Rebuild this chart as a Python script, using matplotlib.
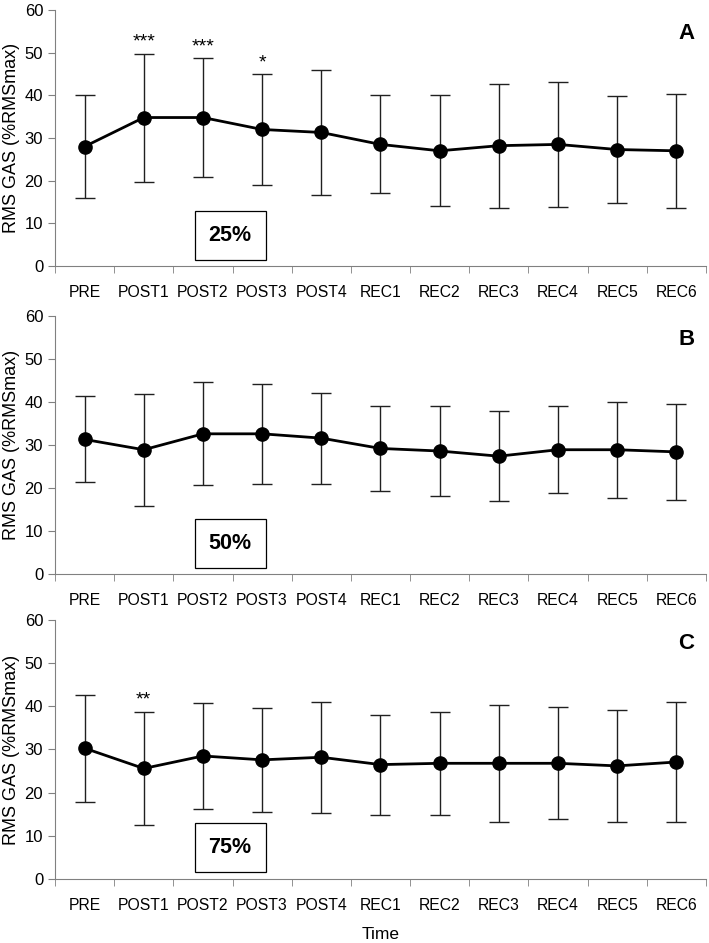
import numpy as np
import matplotlib.pyplot as plt

times = ['PRE', 'POST1', 'POST2', 'POST3', 'POST4', 'REC1', 'REC2', 'REC3', 'REC4', 'REC5', 'REC6']

# mean and SD for each intensity
mean_25 = [28.0, 34.8, 34.8, 32.0, 31.3, 28.5, 27.0, 28.2, 28.5, 27.3, 27.0]
sd_25 = [12.0, 15.0, 14.0, 13.1, 14.6, 11.5, 13.0, 14.5, 14.6, 12.6, 13.3]
mean_50 = [31.3, 28.9, 32.6, 32.6, 31.6, 29.2, 28.6, 27.4, 28.9, 28.9, 28.4]
sd_50 = [10.0, 13.0, 12.0, 11.6, 10.6, 9.9, 10.4, 10.4, 10.1, 11.2, 11.2]
mean_75 = [30.3, 25.6, 28.5, 27.6, 28.2, 26.5, 26.8, 26.8, 26.8, 26.2, 27.1]
sd_75 = [12.4, 13.2, 12.3, 12.0, 12.9, 11.6, 11.9, 13.6, 13.0, 13.0, 14.0]

panels = [('A', '25%', mean_25, sd_25, {1: '***', 2: '***', 3: '*'}),
          ('B', '50%', mean_50, sd_50, {}),
          ('C', '75%', mean_75, sd_75, {1: '**'})]

plt.rcParams['font.family'] = ['Liberation Sans', 'DejaVu Sans']
fig = plt.figure(figsize=(7.09, 9.43), dpi=100)
rects = [[0.0776, 0.7179, 0.918, 0.2715],
         [0.0776, 0.3913, 0.918, 0.2736],
         [0.0776, 0.0679, 0.918, 0.2746]]

x = np.arange(len(times))
for rect, (letter, pct, m, s, stars) in zip(rects, panels):
    ax = fig.add_axes(rect)
    ax.errorbar(x, m, yerr=s, fmt='-o', color='black', ms=9.5, lw=2,
                elinewidth=1, ecolor='#202020', capsize=7.5, capthick=1)
    ax.set_xlim(-0.5, len(times) - 0.5)
    ax.set_ylim(0, 60)
    ax.set_yticks(range(0, 61, 10))
    ax.set_xticks(x)
    ax.set_xticklabels(times, fontsize=11.3)
    ax.set_xticks(np.arange(-0.5, len(times)), minor=True)
    ax.tick_params(axis='x', which='major', length=0, pad=14)
    ax.tick_params(axis='x', which='minor', length=5, color='#808080')
    ax.tick_params(axis='y', length=5, color='#808080', labelsize=12)
    for sp in ['top', 'right']:
        ax.spines[sp].set_visible(False)
    for sp in ['left', 'bottom']:
        ax.spines[sp].set_color('#808080')
        ax.spines[sp].set_linewidth(0.8)
    ax.set_ylabel('RMS GAS (%RMSmax)', fontsize=13, labelpad=3)
    ax.text(10.17, 54.5, letter, fontsize=16, fontweight='bold',
            ha='center', va='center')
    ax.text(2.46, 7.2, pct, fontsize=15.5, fontweight='bold',
            ha='center', va='center',
            bbox=dict(boxstyle='square,pad=0.65', fc='white', ec='black', lw=0.9))
    for i, st in stars.items():
        ax.text(i, m[i] + s[i] + 0.6, st, fontsize=14,
                ha='center', va='bottom')
    if letter == 'C':
        ax.set_xlabel('Time', fontsize=12.5, labelpad=10)

fig.savefig('out.png', dpi=100)
